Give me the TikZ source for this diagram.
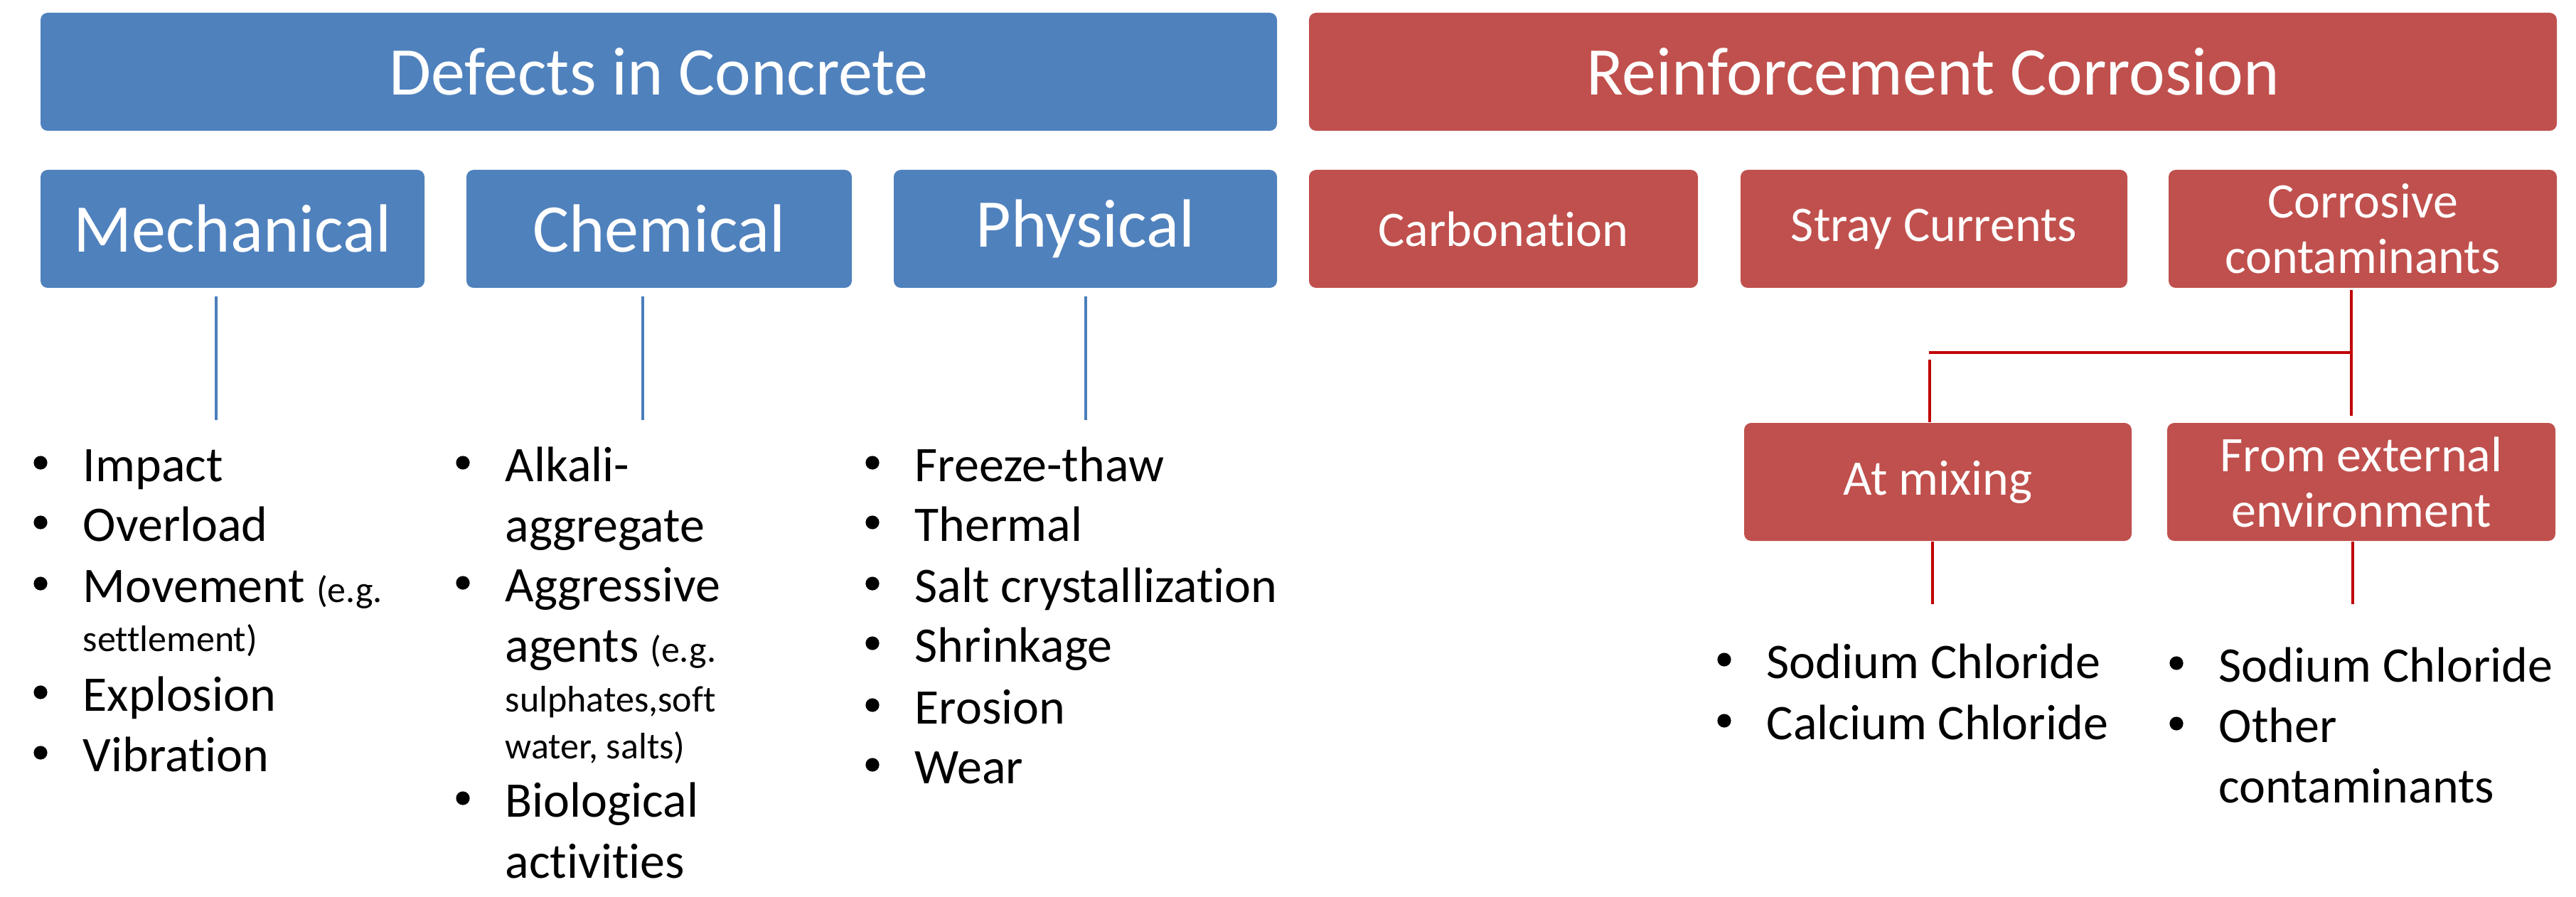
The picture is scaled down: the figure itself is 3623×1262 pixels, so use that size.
\documentclass[tikz,border=0pt]{standalone}
\usepackage{fontspec}
\setmainfont{Carlito}[Ligatures=NoCommon]
\usetikzlibrary{calc}
\definecolor{boxblue}{HTML}{4F81BD}
\definecolor{boxred}{HTML}{C0504D}
\definecolor{lineblue}{HTML}{4A7EBB}
\definecolor{linered}{HTML}{C00000}
\newcommand\sm{\fontsize{13}{15}\selectfont}
% bulleted line: name, text x, baseline y, text
\newcommand\bitem[4]{%
  \node[item] (#1) at (#2,#3) {#4};
  \fill ($(#1.base west)+(-59,-26)$) circle[radius=2.4pt];}
\begin{document}
\begin{tikzpicture}[x=0.25pt,y=-0.25pt,
  box/.style={rectangle, rounded corners=2.5pt, inner sep=0pt, text=white, align=center},
  bluebox/.style={box, fill=boxblue},
  redbox/.style={box, fill=boxred},
  hdr/.style={minimum width=#1, minimum height=41.5pt, font=\fontsize{24}{29}\selectfont},
  sub/.style={minimum width=#1, minimum height=41.5pt, font=\fontsize{24}{29}\selectfont},
  cat/.style={minimum width=#1, minimum height=41.5pt, font=\fontsize{17.5}{19.5}\selectfont},
  item/.style={anchor=base west, inner sep=0pt, font=\fontsize{17.5}{20}\selectfont},
  blueline/.style={draw=lineblue, line width=0.9pt},
  redline/.style={draw=linered, line width=1.15pt}]
\useasboundingbox (0,0) rectangle (3623,1262);

% headers
\node[bluebox, hdr=434.75pt] (defects) at (926.5,101) {Defects in Concrete};
\node[redbox, hdr=438.75pt] (reinf) at (2718.5,101) {Reinforcement Corrosion};

% second row, concrete
\node[bluebox, sub=135pt] (mech) at (327,322) {Mechanical};
\node[bluebox, sub=135.5pt] (chem) at (927,322) {Chemical};
\node[bluebox, sub=134.75pt] (phys) at (1526.5,322) {Physical};

% second row, corrosion
\node[redbox, cat=136.75pt] (carb) at (2114.5,322) {Carbonation};
\node[redbox, cat=136pt] (stray) at (2720,322) {Stray Currents};
\node[redbox, cat=136.5pt] (corr) at (3323,322) {Corrosive\\contaminants};

% third row, corrosion
\node[redbox, cat=136.25pt] (mix) at (2725.5,678) {At mixing};
\node[redbox, cat=136.5pt] (ext) at (3321,678) {From external\\environment};

% blue connectors
\coordinate (mechT) at (304,417); \coordinate (mechB) at (304,591);
\coordinate (chemT) at (904,417); \coordinate (chemB) at (904,591);
\coordinate (physT) at (1527,417); \coordinate (physB) at (1527,591);
\draw[blueline] (mechT) -- (mechB);
\draw[blueline] (chemT) -- (chemB);
\draw[blueline] (physT) -- (physB);

% red connectors
\coordinate (corrT) at (3307,408); \coordinate (corrB) at (3307,585);
\coordinate (hL) at (2713,496); \coordinate (hR) at (3307,496);
\coordinate (mixT) at (2714,506);
\draw[redline] (corrT) -- (corrB);
\draw[redline] (hR) -- (hL);
\draw[redline] (mixT) -- (mixT |- mix.north);
\coordinate (mixL) at (2718,850);
\coordinate (extL) at (3309,850);
\draw[redline] (mixL |- mix.south) -- (mixL);
\draw[redline] (extL |- ext.south) -- (extL);

% mechanical list
\bitem{m1}{116}{677}{Impact}
\bitem{m2}{116}{761}{Overload}
\bitem{m3}{116}{847}{Movement {\sm (e.g.}}
\node[item] (m3b) at (116,916) {\sm settlement)};
\bitem{m4}{116}{1000}{Explosion}
\bitem{m5}{116}{1085}{Vibration}

% chemical list
\bitem{c1}{710}{677}{Alkali-}
\node[item] (c1b) at (710,762) {aggregate};
\bitem{c2}{710}{846}{Aggressive}
\node[item] (c2b) at (710,931) {agents {\sm (e.g.}};
\node[item] (c2c) at (710,1001) {\sm sulphates,soft};
\node[item] (c2d) at (710,1067) {\sm water, salts)};
\bitem{c3}{710}{1149}{Biological}
\node[item] (c3b) at (710,1235) {activities};

% physical list
\bitem{p1}{1286}{677}{Freeze-thaw}
\bitem{p2}{1286}{761}{Thermal}
\bitem{p3}{1286}{847}{Salt crystallization}
\bitem{p4}{1286}{931}{Shrinkage}
\bitem{p5}{1286}{1018}{Erosion}
\bitem{p6}{1286}{1102}{Wear}

% at mixing list
\bitem{a1}{2484}{954}{Sodium Chloride}
\bitem{a2}{2484}{1040}{Calcium Chloride}

% external list
\bitem{e1}{3120}{959}{Sodium Chloride}
\bitem{e2}{3120}{1044}{Other}
\node[item] (e2b) at (3120,1129) {contaminants};
\end{tikzpicture}
\end{document}
